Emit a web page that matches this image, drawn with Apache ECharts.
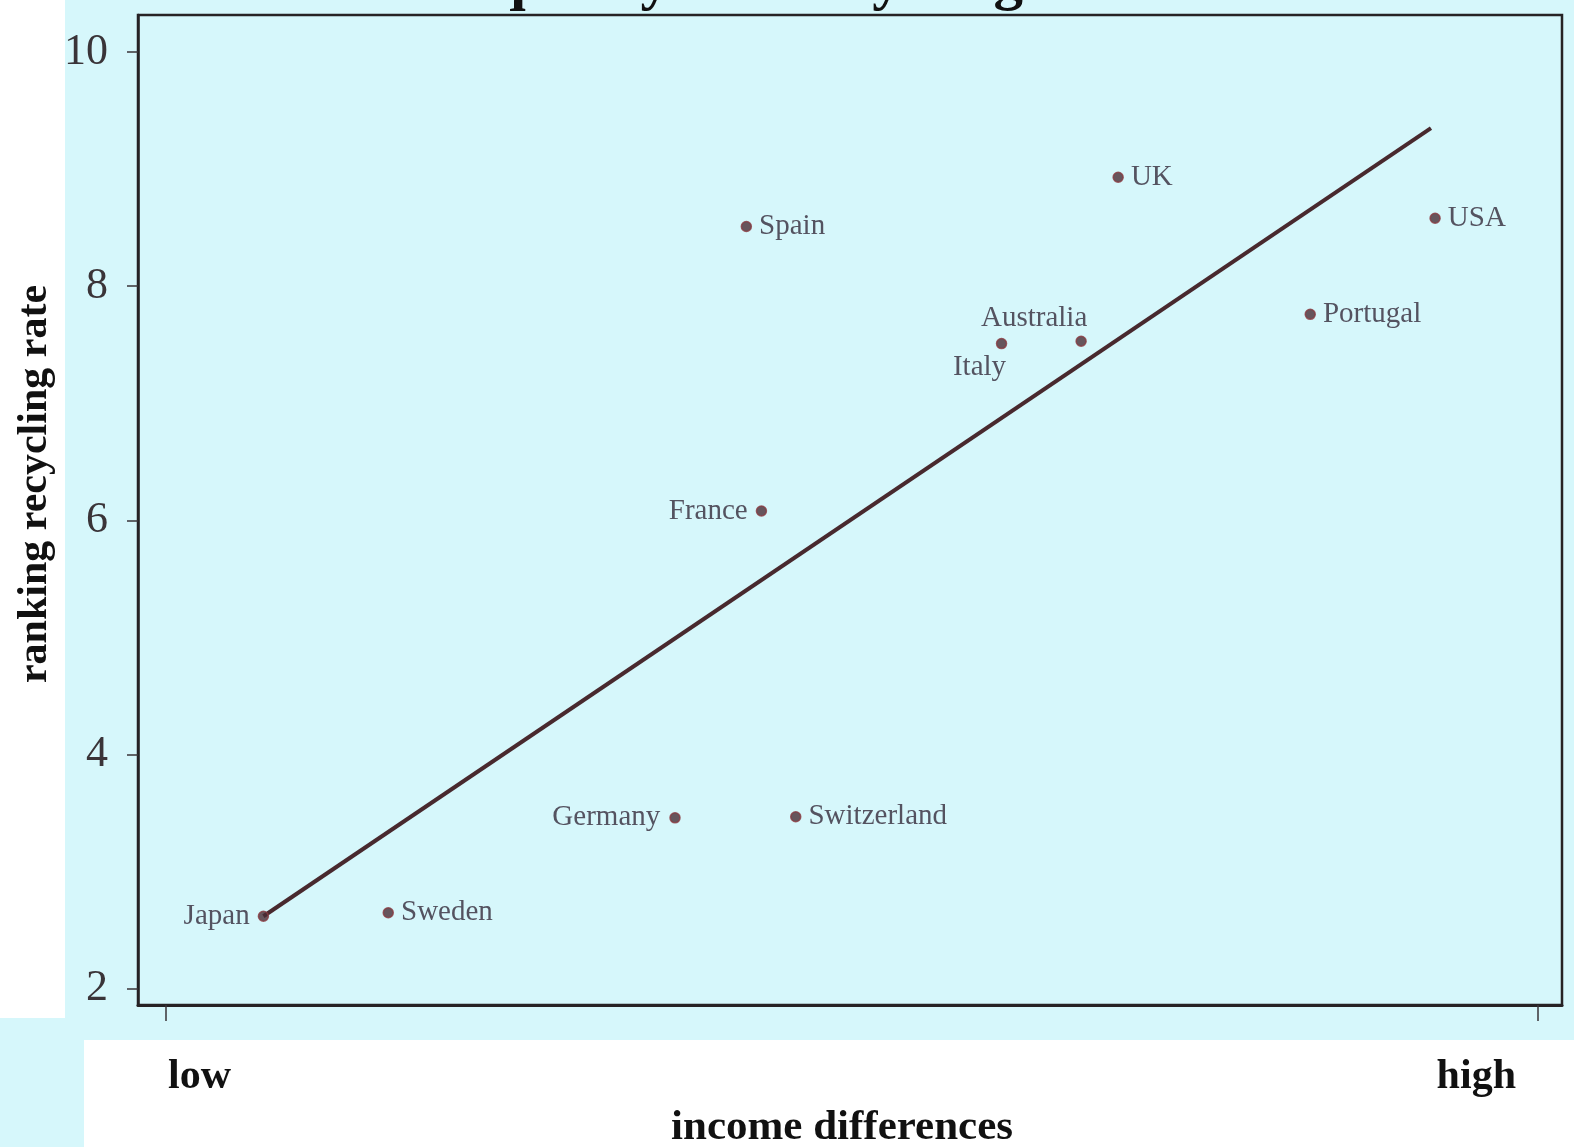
<!DOCTYPE html>
<html>
<head>
	<meta charset="UTF-8">
	<title>Inequality and recycling</title>
	<script src="https://cdn.jsdelivr.net/npm/echarts@6/dist/echarts.min.js"></script>
	<style>
		html, body { margin: 0; padding: 0; background: #fff; }
		#main { width: 1574px; height: 1147px; }
	</style>
</head>
<body>
	<div id="main"></div>
	<script type="text/javascript">
		// values
		var countries = ['Japan', 'Sweden', 'Germany', 'Switzerland', 'France', 'Spain', 'Italy', 'Australia', 'UK', 'Portugal', 'USA'];
		var incomeGap = [0.071, 0.162, 0.371, 0.459, 0.434, 0.423, 0.609, 0.667, 0.694, 0.834, 0.925];
		var recyclingRank = [2.62, 2.65, 3.46, 3.47, 6.08, 8.51, 7.51, 7.53, 8.93, 7.76, 8.58];
		// fitted line end points
		var fitX = [0.071, 0.922];
		var fitY = [2.62, 9.35];
		var yTicks = [2, 4, 6, 8, 10];
		var xTicks = [0, 1];

		// where each country name sits next to its dot
		var labelPlace = {
			Japan: { position: 'left', distance: 8 },
			Germany: { position: 'left', distance: 9 },
			France: { position: 'left', distance: 8 },
			Italy: { position: 'bottom', distance: 4, offset: [-22, 0] },
			Australia: { position: 'top', distance: 3, offset: [-47, 0] }
		};

		var serif = '"Liberation Serif", "Times New Roman", serif';

		var points = countries.map(function (name, i) {
			var p = labelPlace[name] || { position: 'right', distance: 7 };
			return {
				name: name,
				value: [incomeGap[i], recyclingRank[i]],
				label: { position: p.position, distance: p.distance, offset: p.offset || [0, 0] }
			};
		});

		var myChart = echarts.init(document.getElementById('main'));
		myChart.setOption({
			animation: false,
			backgroundColor: '#ffffff',
			graphic: [
				{ type: 'rect', z: -10, shape: { x: 65, y: 0, width: 1509, height: 1040 }, style: { fill: '#d6f7fb' }, silent: true },
				{ type: 'rect', z: -10, shape: { x: 0, y: 1018, width: 84, height: 129 }, style: { fill: '#d6f7fb' }, silent: true },
				{
					type: 'text', x: 717, y: 12, z: 5,
					style: { text: 'Inequality and recycling', font: 'bold 59px ' + serif, fill: '#111', align: 'center', verticalAlign: 'bottom' }
				},
				{
					type: 'text', x: 35, y: 484, rotation: Math.PI / 2, z: 5,
					style: { text: 'ranking recycling rate', font: 'bold 42px ' + serif, fill: '#111', align: 'center', verticalAlign: 'middle' }
				},
				{
					type: 'text', x: 168, y: 1077, z: 5,
					style: { text: 'low', font: 'bold 42px ' + serif, fill: '#111', align: 'left', verticalAlign: 'middle' }
				},
				{
					type: 'text', x: 1516, y: 1077, z: 5,
					style: { text: 'high', font: 'bold 42px ' + serif, fill: '#111', align: 'right', verticalAlign: 'middle' }
				},
				{
					type: 'text', x: 842, y: 1128, z: 5,
					style: { text: 'income differences', font: 'bold 43px ' + serif, fill: '#111', align: 'center', verticalAlign: 'middle' }
				}
			],
			grid: {
				left: 138,
				right: 12,
				top: 15,
				bottom: 142,
				show: true,
				borderColor: '#262224',
				borderWidth: 2.5,
				backgroundColor: 'transparent'
			},
			xAxis: {
				type: 'value',
				min: -0.0204,
				max: 1.0175,
				splitLine: { show: false },
				axisLine: { show: true, onZero: false, lineStyle: { color: '#262224', width: 3 } },
				axisTick: { show: true, customValues: xTicks, length: 16, lineStyle: { color: '#3a3438', width: 1.5 } },
				axisLabel: { show: false }
			},
			yAxis: {
				type: 'value',
				min: 1.862,
				max: 10.316,
				splitLine: { show: false },
				axisLine: { show: true, onZero: false, lineStyle: { color: '#262224', width: 2.5 } },
				axisTick: { show: true, customValues: yTicks, length: 11, lineStyle: { color: '#3a3438', width: 1.5 } },
				axisLabel: {
					customValues: yTicks,
					margin: 30,
					fontFamily: serif,
					fontSize: 44,
					color: '#3a3438'
				}
			},
			series: [{
				type: 'line',
				data: fitX.map(function (x, i) { return [x, fitY[i]]; }),
				showSymbol: false,
				lineStyle: { color: '#48292e', width: 4 },
				z: 3
			}, {
				type: 'scatter',
				data: points,
				symbol: 'circle',
				symbolSize: 10,
				itemStyle: { color: '#4a2c34', borderColor: '#8a3a40', borderWidth: 1.5 },
				label: {
					show: true,
					formatter: '{b}',
					fontFamily: serif,
					fontSize: 29,
					color: '#33293a'
				},
				z: 4
			}]
		});
	</script>
</body>
</html>
